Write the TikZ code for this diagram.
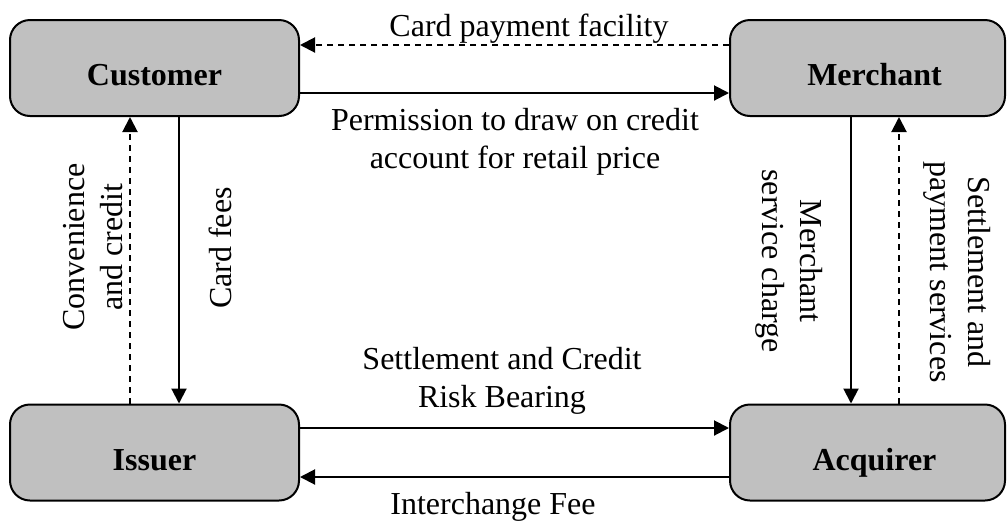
\documentclass[tikz,border=0pt]{standalone}
\usepackage{fontspec}
\setmainfont{Liberation Serif}
\usetikzlibrary{arrows.meta}
\begin{document}
\begin{tikzpicture}[x=0.5pt,y=-0.5pt,
  party/.style={draw=black, line width=1pt, fill={rgb,255:red,192;green,192;blue,192},
    rounded corners=10pt, minimum width=144.5pt, minimum height=48pt, inner sep=0pt,
    text height=20pt, text depth=2.5pt,
    font=\fontsize{16}{19}\selectfont\bfseries},
  flow/.style={line width=1pt, -{Triangle[length=7.5pt,width=7.5pt]}},
  dflow/.style={flow, dash pattern=on 3pt off 2.5pt},
  lbl/.style={font=\fontsize{16}{19}\selectfont, align=center, inner sep=0pt}]
\useasboundingbox (0,0) rectangle (1008,521);
\node[party] (cust) at (154.5,68) {Customer};
\node[party, minimum width=137.5pt] (merch) at (867.5,68) {\hspace*{7pt}Merchant};
\node[party] (iss) at (154.5,452.5) {Issuer};
\node[party, minimum width=137.5pt] (acq) at (867.5,452.5) {\hspace*{7pt}Acquirer};
% top
\draw[dflow] (merch.west |- 0,45) -- (cust.east |- 0,45);
\draw[flow] (cust.east |- 0,93) -- (merch.west |- 0,93);
\node[lbl, anchor=base] (l1) at (529,36) {Card payment facility};
\node[lbl, anchor=base] (l2) at (515,168) {Permission to draw on credit\\account for retail price};
% bottom
\draw[flow] (iss.east |- 0,428) -- (acq.west |- 0,428);
\draw[flow] (acq.west |- 0,477) -- (iss.east |- 0,477);
\node[lbl, anchor=base] (l3) at (502,407) {Settlement and Credit\\Risk Bearing};
\node[lbl, anchor=base] (l4) at (493,514) {Interchange Fee};
% left
\draw[dflow] (iss.north -| 130,0) -- (cust.south -| 130,0);
\draw[flow] (cust.south -| 179,0) -- (iss.north -| 179,0);
\node[lbl, rotate=90] (l5) at (93,247) {Convenience\\and credit};
\node[lbl, rotate=90] (l6) at (220,248) {Card fees};
% right
\draw[flow] (merch.south -| 851,0) -- (acq.north -| 851,0);
\draw[dflow] (acq.north -| 899,0) -- (merch.south -| 899,0);
\node[lbl, rotate=-90] (l7) at (789,261) {Merchant\\service charge};
\node[lbl, rotate=-90] (l8) at (957,272) {Settlement and\\payment services};
\end{tikzpicture}
\end{document}
